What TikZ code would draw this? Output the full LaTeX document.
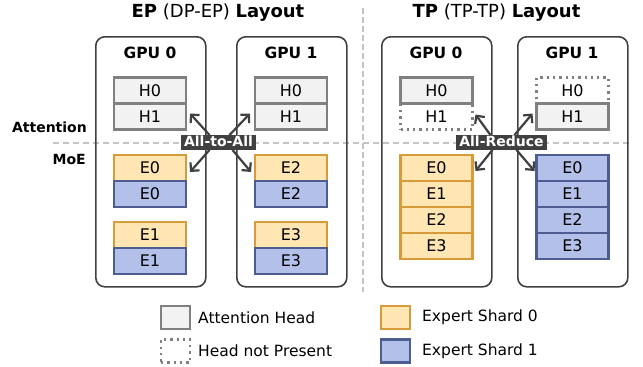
\documentclass[tikz,border=0pt]{standalone}
\usepackage{fontspec}
\setmainfont{DejaVu Sans}
\usetikzlibrary{arrows.meta,positioning,calc}
\definecolor{headfill}{HTML}{F2F2F2}
\definecolor{headline}{HTML}{808080}
\definecolor{shardAfill}{HTML}{FFE6B3}
\definecolor{shardAline}{HTML}{D79B3A}
\definecolor{shardBfill}{HTML}{B3C0EA}
\definecolor{shardBline}{HTML}{4D5C91}
\definecolor{darkgrey}{HTML}{404040}
\definecolor{divgrey}{HTML}{C4C4C4}

\begin{document}
\begin{tikzpicture}[x=1pt, y=-1pt,
  gpu/.style={draw=darkgrey, line width=1.6pt, rounded corners=9pt, minimum width=110pt, minimum height=250pt, anchor=north west},
  gpulbl/.style={font=\bfseries\fontsize{15.5}{18}\selectfont},
  block/.style={minimum width=72pt, minimum height=26pt, line width=2.3pt, outer sep=0pt, inner sep=0pt, font=\fontsize{16}{19}\selectfont},
  head/.style={block, draw=headline, fill=headfill},
  nohead/.style={block, draw=headline, dash pattern=on 2.3pt off 4pt},
  shA/.style={block, draw=shardAline, fill=shardAfill},
  shB/.style={block, draw=shardBline, fill=shardBfill},
  comm/.style={fill=darkgrey, text=white, font=\bfseries\fontsize{14}{16}\selectfont, inner xsep=3pt, inner ysep=1pt, text height=10.5pt, text depth=2pt},
  arr/.style={-{Straight Barb[length=6pt, width=12pt]}, darkgrey, line width=2.2pt},
  sep/.style={divgrey, line width=1.4pt, dash pattern=on 6pt off 4pt},
  side/.style={font=\bfseries\fontsize{14}{17}\selectfont, anchor=east, inner sep=0pt},
  lgtext/.style={font=\fontsize{15.5}{18}\selectfont, anchor=west, inner sep=0pt}
]
  \useasboundingbox (0,0) rectangle (643,367);

  % separators
  \draw[sep] (53,143) -- (630,143);
  \draw[sep, line width=2.2pt, dash pattern=on 6pt off 3pt] (363,8) -- (363,292);

  % titles
  \node[font=\fontsize{18}{21}\selectfont] (eptitle) at (218,13) {\textbf{EP} (DP-EP) \textbf{Layout}};
  \node[font=\fontsize{18}{21}\selectfont] (tptitle) at (496.5,13) {\textbf{TP} (TP-TP) \textbf{Layout}};
  \node[side] (attn) at (87,127) {Attention};
  \node[side] (moe) at (86,159) {MoE};

  % GPU boxes
  \node[gpu] (ep0) at (95,36) {};
  \node[gpu] (ep1) at (236,36) {};
  \node[gpu] (tp0) at (381,36) {};
  \node[gpu] (tp1) at (517,36) {};
  \node[gpulbl] at (150,53) {GPU 0};
  \node[gpulbl] at (291,53) {GPU 1};
  \node[gpulbl] at (436,53) {GPU 0};
  \node[gpulbl] at (572,53) {GPU 1};

  % EP layout
  \node[head] (e0h0) at (150,90.5) {H0};
  \node[head, below=0pt of e0h0] (e0h1) {H1};
  \node[shA] (e0a0) at (150,168) {E0};
  \node[shB, below=0pt of e0a0] (e0b0) {E0};
  \node[shA] (e0a1) at (150,235) {E1};
  \node[shB, below=0pt of e0a1] (e0b1) {E1};

  \node[head] (e1h0) at (291,90.5) {H0};
  \node[head, below=0pt of e1h0] (e1h1) {H1};
  \node[shA] (e1a0) at (291,168) {E2};
  \node[shB, below=0pt of e1a0] (e1b0) {E2};
  \node[shA] (e1a1) at (291,235) {E3};
  \node[shB, below=0pt of e1a1] (e1b1) {E3};

  % TP layout
  \node[head] (t0h0) at (436.5,90.5) {H0};
  \node[nohead, below=0pt of t0h0] (t0h1) {H1};
  \node[nohead] (t1h0) at (572.5,90.5) {H0};
  \node[head, below=0pt of t1h0] (t1h1) {H1};
  \foreach \i in {0,...,3}{
    \node[shA] (t0e\i) at (436.5,{168+26*\i}) {E\i};
    \node[shB] (t1e\i) at (572.5,{168+26*\i}) {E\i};
  }

  % communication
  \node[comm] (a2a) at (218.5,142.5) {All-to-All};
  \node[comm] (ared) at (501.5,142.5) {All-Reduce};
  \draw[arr] ($(a2a.north)+(-9,0)$) -- ($(e0h1.east)+(4,-3)$);
  \draw[arr] ($(a2a.north)+(11,0)$) -- ($(e1h1.west)+(-5,-3)$);
  \draw[arr] ($(a2a.south)+(-9,0)$) -- ($(e0a0.east)+(4,4)$);
  \draw[arr] ($(a2a.south)+(14,0)$) -- ($(e1a0.west)+(-4,4)$);
  \draw[arr] ($(ared.north)+(-11,0)$) -- ($(t0h1.east)+(3,-2)$);
  \draw[arr] ($(ared.north)+(13,0)$) -- ($(t1h1.west)+(-4,-3)$);
  \draw[arr] ($(ared.south)+(-9,0)$) -- ($(t0e0.east)+(3,3)$);
  \draw[arr] ($(ared.south)+(15,0)$) -- ($(t1e0.west)+(-2,3)$);

  % legend
  \node[head, minimum width=29pt, minimum height=23pt] (lghead) at (175.5,317.5) {};
  \node[nohead, minimum width=29pt, minimum height=23pt] (lgnone) at (175.5,351) {};
  \node[shA, minimum width=29pt, minimum height=23pt] (lgsha) at (395.5,317.5) {};
  \node[shB, minimum width=29pt, minimum height=23pt] (lgshb) at (395.5,351) {};
  \node[lgtext, right=8pt of lghead] {Attention Head};
  \node[lgtext, right=8pt of lgnone] {Head not Present};
  \node[lgtext, right=12pt of lgsha] {Expert Shard 0};
  \node[lgtext, right=12pt of lgshb] {Expert Shard 1};
\end{tikzpicture}
\end{document}
